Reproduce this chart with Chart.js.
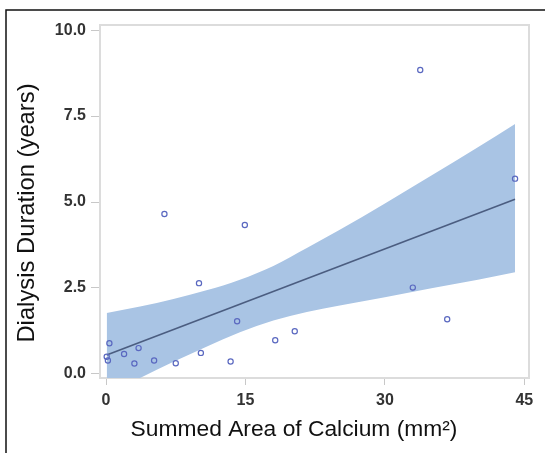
<!DOCTYPE html>
<html>
<head>
<meta charset="utf-8">
<script src="https://cdn.jsdelivr.net/npm/chart.js@4.4.1/dist/chart.umd.min.js"></script>
<style>
  html, body { margin: 0; padding: 0; background: #fff; }
  #wrap { position: relative; width: 545px; height: 453px; }
</style>
</head>
<body>
<div id="wrap"><canvas id="chart" width="545" height="453"></canvas></div>
<script>
// observed points: summed calcium area (mm2) vs dialysis duration (years)
const calciumArea = [6.28, 14.93, 10.0, 14.1, 18.2, 20.3, 0.36, 0.07, 0.2, 1.94,
                     3.5, 3.05, 5.17, 7.5, 10.2, 13.4, 33.8, 44.0, 33.0, 36.7];
const dialysisYears = [4.65, 4.33, 2.64, 1.53, 0.98, 1.24, 0.89, 0.50, 0.39, 0.58,
                       0.75, 0.30, 0.39, 0.31, 0.61, 0.36, 8.84, 5.68, 2.51, 1.59];

// fitted line end points
const fitX = [0.07, 44.0];
const fitY = [0.55, 5.08];

// confidence band
const bandX = [0.07, 3.66, 7.25, 10.8, 14.4, 18.0, 21.6, 25, 30, 35, 40, 44.0];
const bandUpper = [1.77, 1.96, 2.18, 2.43, 2.74, 3.14, 3.66, 4.17, 4.96, 5.77, 6.59, 7.27];
const bandLower = [-0.65, -0.12, 0.35, 0.79, 1.21, 1.55, 1.80, 1.98, 2.23, 2.49, 2.74, 2.96];

// axis ticks
const xTicks = [0, 15, 30, 45];
const yTicks = [0, 2.5, 5, 7.5, 10];

const xTitle = 'Summed Area of Calcium (mm\u00B2)';
const yTitle = 'Dialysis Duration (years)';

const FONT = "'Liberation Sans', Arial, sans-serif";

const zip = (xs, ys) => xs.map((x, i) => ({ x: x, y: ys[i] }));

// frame around the plot, outer box and the two axis titles
const decorations = {
    id: 'decorations',
    beforeDatasetsDraw(chart) {
        const { ctx, chartArea: a } = chart;
        ctx.save();
        ctx.strokeStyle = '#dcdcdc';
        ctx.lineWidth = 2;
        ctx.strokeRect(a.left, a.top, a.right - a.left, a.bottom - a.top);
        ctx.restore();
    },
    afterDraw(chart) {
        const { ctx } = chart;
        ctx.save();
        // outer box (only top and left edges fall inside the picture)
        ctx.strokeStyle = '#111';
        ctx.lineWidth = 1.5;
        ctx.beginPath();
        ctx.moveTo(545, 10);
        ctx.lineTo(6, 10);
        ctx.lineTo(6, 453);
        ctx.stroke();

        ctx.fillStyle = '#111';
        ctx.textAlign = 'center';
        ctx.textBaseline = 'middle';
        ctx.font = '22.8px ' + FONT;
        ctx.fillText(xTitle, 294, 430);

        ctx.font = '23.8px ' + FONT;
        ctx.translate(27, 213);
        ctx.rotate(-Math.PI / 2);
        ctx.fillText(yTitle, 0, 0);
        ctx.restore();
    }
};

const tickFont = { family: FONT, size: 16, weight: 'bold' };

new Chart(document.getElementById('chart'), {
    type: 'scatter',
    data: {
        datasets: [
            {
                label: 'Observed',
                data: zip(calciumArea, dialysisYears),
                showLine: false,
                pointRadius: 2.6,
                pointBorderWidth: 1.2,
                pointBorderColor: '#5a68c0',
                pointBackgroundColor: 'rgba(0,0,0,0)'
            },
            {
                label: 'Fit',
                data: zip(fitX, fitY),
                showLine: true,
                borderColor: '#4b5d80',
                borderWidth: 1.6,
                pointRadius: 0
            },
            {
                label: 'Upper',
                data: zip(bandX, bandUpper),
                showLine: true,
                borderWidth: 0,
                borderColor: 'rgba(0,0,0,0)',
                backgroundColor: '#a9c4e4',
                pointRadius: 0,
                cubicInterpolationMode: 'monotone',
                fill: '+1'
            },
            {
                label: 'Lower',
                data: zip(bandX, bandLower),
                showLine: true,
                borderWidth: 0,
                borderColor: 'rgba(0,0,0,0)',
                pointRadius: 0,
                cubicInterpolationMode: 'monotone',
                fill: false
            }
        ]
    },
    options: {
        responsive: false,
        animation: false,
        events: [],
        layout: { padding: { top: 25, right: 16, left: 0, bottom: 0 } },
        plugins: {
            legend: { display: false },
            tooltip: { enabled: false }
        },
        scales: {
            x: {
                type: 'linear',
                min: -0.65,
                max: 45.5,
                afterFit: (s) => { s.height = 75; },
                afterBuildTicks: (s) => { s.ticks = xTicks.map(v => ({ value: v })); },
                grid: { drawOnChartArea: false, drawTicks: true, tickLength: 7, color: '#c8c8c8' },
                border: { display: false },
                ticks: { font: tickFont, color: '#333', padding: 6, maxRotation: 0,
                         callback: (v) => String(v) }
            },
            y: {
                type: 'linear',
                min: -0.12,
                max: 10.15,
                afterFit: (s) => { s.width = 100; },
                afterBuildTicks: (s) => { s.ticks = yTicks.map(v => ({ value: v })); },
                grid: { drawOnChartArea: false, drawTicks: true, tickLength: 9, color: '#c8c8c8' },
                border: { display: false },
                ticks: { font: tickFont, color: '#333', padding: 5,
                         callback: (v) => Number(v).toFixed(1) }
            }
        }
    },
    plugins: [decorations]
});
</script>
</body>
</html>
